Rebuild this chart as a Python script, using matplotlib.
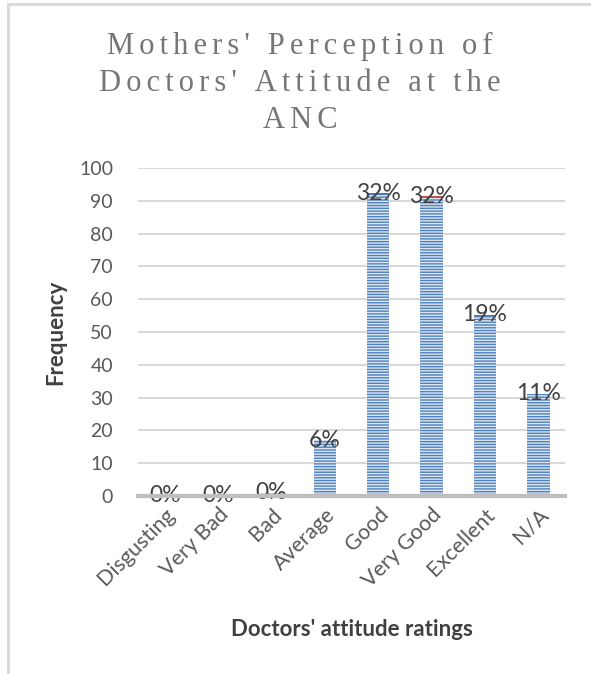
import matplotlib.pyplot as plt
from matplotlib.patches import Rectangle
import numpy as np

ratings = ["Disgusting", "Very Bad", "Bad", "Average", "Good", "Very Good", "Excellent", "N/A"]
counts = [0, 0, 1, 17, 92, 91, 55, 31]
title_lines = ["Mothers' Perception of", "Doctors' Attitude at the", "ANC"]
yticks = [0, 10, 20, 30, 40, 50, 60, 70, 80, 90, 100]

W, H = 591, 674
plt.rcParams['font.family'] = ['Lato', 'DejaVu Sans']
plt.rcParams['hatch.linewidth'] = 1.0

fig = plt.figure(figsize=(W / 100, H / 100), dpi=100)
ax = fig.add_axes([138 / W, 1 - 496 / H, (565 - 138) / W, (496 - 168) / H])

# chart area border (only left/top visible in the crop)
fig.patches.append(Rectangle((8 / W, -0.1), 1.2, 1 - 4 / H + 0.1, transform=fig.transFigure,
                             fill=False, edgecolor='#D9D9D9', linewidth=2))

x = np.arange(len(ratings))
total = sum(counts)
pcts = [c / total for c in counts]

ax.bar(x, counts, width=0.42, color='#4F81BD', edgecolor='#DCE6F2', linewidth=0,
       hatch='------', zorder=3)
ax.bar(x, pcts, bottom=counts, width=0.42, color='#C0504D', linewidth=0, zorder=3)

for xi, c, p in zip(x, counts, pcts):
    ax.text(xi, c + p, f"{p:.0%}", ha='center', va='center', fontsize=16.5, color='#404040', zorder=4)

ax.set_xlim(-0.5, len(ratings) - 0.5)
ax.set_ylim(0, 100)
ax.set_yticks(yticks)
ax.set_xticks(x)
ax.set_xticklabels(ratings, rotation=45, ha='right', rotation_mode='anchor')
ax.tick_params(axis='y', length=0, labelsize=14, colors='#595959', pad=18)
ax.tick_params(axis='x', length=0, labelsize=15.5, colors='#595959', pad=6)
ax.grid(axis='y', color='#D9D9D9', linewidth=1.5, zorder=0)
for s in ['top', 'right', 'left']:
    ax.spines[s].set_visible(False)
ax.spines['bottom'].set_color('#BFBFBF')
ax.spines['bottom'].set_linewidth(3)
ax.spines['bottom'].set_zorder(5)

fig.text(56 / W, 1 - 332 / H, "Frequency", ha='center', va='center', rotation=90,
         fontsize=16, fontweight='bold', color='#404040')
fig.text(352 / W, 1 - 630 / H, "Doctors' attitude ratings", ha='center', va='center',
         fontsize=16, fontweight='bold', color='#404040')

# title with wide letter spacing
for i, line in enumerate(title_lines):
    spaced = "\u2006".join(line)
    fig.text(300 / W, 1 - (54 + 37 * i) / H, spaced, ha='center', va='baseline',
             fontsize=22, color='#767676', family=['Liberation Serif', 'DejaVu Serif'])

fig.savefig("out.png", dpi=100)
